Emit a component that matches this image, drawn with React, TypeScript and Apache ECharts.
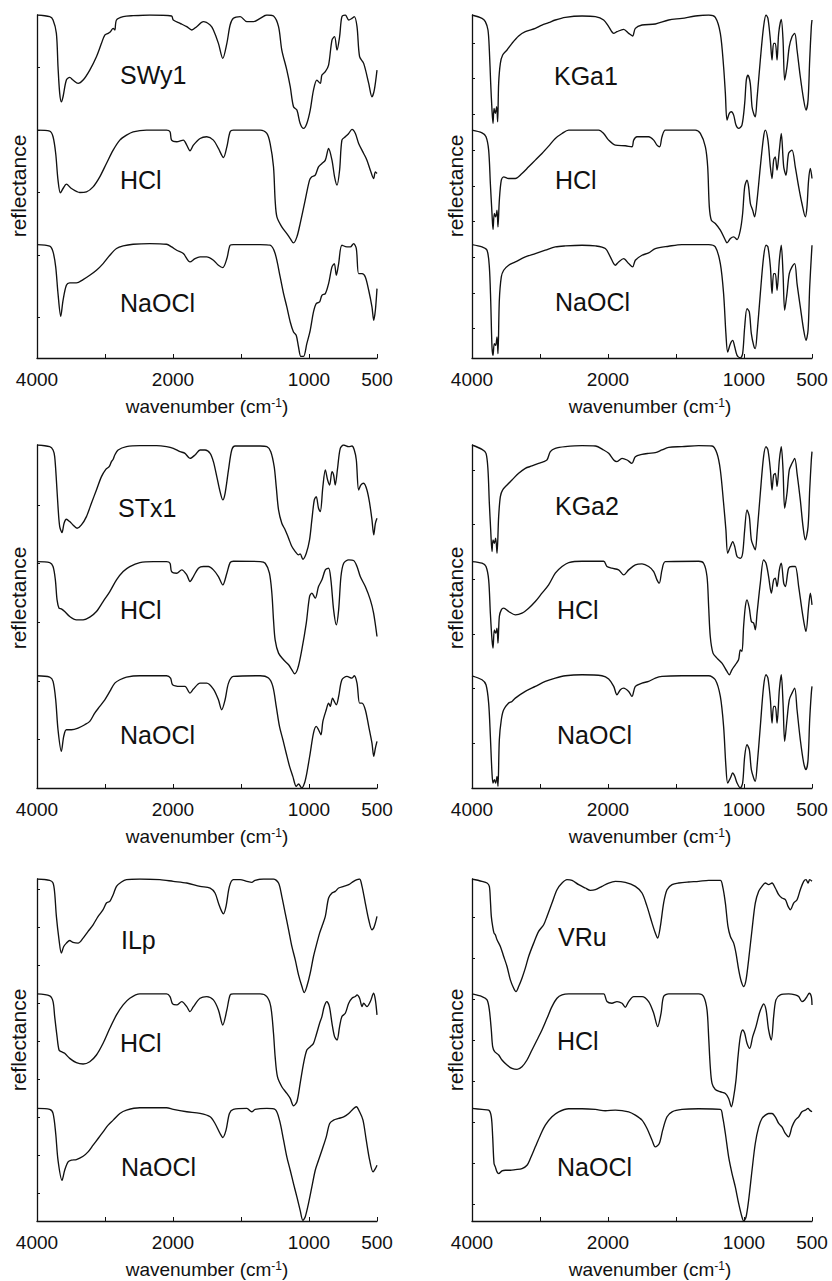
import React, { useEffect, useRef } from "react";
import * as echarts from "echarts";

// ---------- data: [wavenumber (cm-1), reflectance (offset, arbitrary units)] ----------
const SWy1_untreated = [[4000,1028],[3813,1023],[3764,1013],[3715,973],[3691,873],[3666,793],[3642,768],[3617,783],[3568,833],[3519,841],[3470,833],[3396,823],[3322,833],[3224,863],[3126,903],[3052,943],[3003,968],[2954,973],[2920,978],[2880,988],[2856,983],[2831,1013],[2733,1023],[2586,1026],[2340,1028],[2021,1025],[1998,1013],[1948,1003],[1899,993],[1862,983],[1826,993],[1777,1008],[1727,998],[1703,983],[1666,943],[1634,898],[1604,943],[1580,998],[1556,1018],[1506,1023],[1457,1008],[1408,1008],[1359,1018],[1310,1028],[1261,1025],[1224,993],[1200,923],[1163,863],[1138,813],[1114,753],[1089,743],[1065,703],[1040,688],[1016,703],[991,743],[967,803],[942,833],[917,823],[905,848],[880,858],[856,878],[831,953],[812,963],[794,923],[775,963],[758,1023],[733,1028],[708,1013],[684,1018],[667,1023],[647,993],[628,903],[598,883],[561,823],[537,783],[520,803],[500,863]];
const SWy1_HCl = [[4000,683],[3813,680],[3764,663],[3725,613],[3691,533],[3656,495],[3617,508],[3568,521],[3494,508],[3371,496],[3273,498],[3175,513],[3077,543],[2979,583],[2880,623],[2782,653],[2684,668],[2586,678],[2389,683],[2095,683],[2044,678],[2021,653],[1973,648],[1924,653],[1899,638],[1875,621],[1850,638],[1801,658],[1752,663],[1703,653],[1666,628],[1629,601],[1604,633],[1580,678],[1556,683],[1359,683],[1310,673],[1286,643],[1261,573],[1249,473],[1236,423],[1200,393],[1163,373],[1138,358],[1114,345],[1089,363],[1065,403],[1028,473],[996,533],[979,543],[954,548],[930,573],[905,583],[880,593],[856,628],[831,593],[812,543],[794,518],[775,563],[758,653],[733,663],[708,673],[684,685],[659,673],[635,643],[598,613],[574,593],[549,563],[525,538],[512,558],[500,553]];
const SWy1_NaOCl = [[4000,340],[3813,335],[3764,318],[3725,273],[3691,193],[3651,125],[3617,173],[3568,218],[3519,225],[3421,225],[3322,235],[3224,248],[3126,263],[3028,283],[2929,308],[2831,328],[2733,336],[2586,341],[2340,343],[2095,341],[2021,333],[1973,323],[1924,313],[1875,288],[1838,298],[1801,303],[1752,303],[1703,293],[1666,278],[1634,271],[1604,298],[1580,338],[1556,340],[1359,340],[1286,338],[1249,313],[1212,243],[1187,193],[1163,153],[1138,108],[1114,78],[1094,68],[1077,33],[1060,5],[1040,5],[1016,43],[991,83],[967,138],[947,163],[922,168],[905,188],[880,193],[856,223],[831,273],[814,283],[799,248],[782,283],[758,338],[721,333],[696,333],[672,343],[652,328],[635,253],[610,253],[586,243],[561,203],[537,153],[524,113],[512,143],[500,208]];

const KGa1_untreated = [[4000,1028],[3853,1018],[3804,1008],[3765,983],[3745,923],[3725,823],[3706,743],[3691,703],[3676,748],[3657,733],[3637,753],[3623,708],[3608,823],[3583,883],[3549,908],[3485,923],[3412,943],[3314,965],[3216,978],[3069,988],[2971,998],[2873,1005],[2775,1013],[2627,1021],[2382,1025],[2186,1023],[2064,1013],[1995,993],[1958,973],[1934,978],[1885,985],[1848,973],[1819,965],[1799,988],[1750,998],[1652,1001],[1554,1013],[1456,1018],[1358,1025],[1260,1028],[1211,1021],[1174,973],[1150,873],[1137,793],[1125,713],[1108,733],[1093,738],[1076,728],[1059,698],[1039,688],[1015,698],[995,763],[983,833],[971,848],[954,823],[941,753],[929,733],[917,723],[905,773],[880,893],[856,993],[838,1028],[824,1018],[806,953],[794,893],[782,943],[770,943],[757,893],[745,973],[726,1015],[713,953],[701,833],[684,873],[667,933],[647,963],[627,973],[610,923],[586,843],[561,773],[544,743],[529,773],[517,893],[505,993],[500,1013]];
const KGa1_HCl = [[4000,683],[3853,675],[3794,663],[3755,623],[3730,523],[3706,433],[3691,385],[3672,433],[3652,423],[3632,443],[3618,393],[3598,473],[3569,533],[3534,543],[3461,538],[3363,538],[3265,553],[3167,573],[3069,593],[2971,613],[2873,635],[2775,658],[2676,673],[2578,683],[2382,683],[2137,683],[2064,673],[1995,653],[1946,638],[1873,636],[1824,633],[1811,653],[1787,663],[1701,663],[1664,653],[1640,638],[1620,633],[1603,663],[1578,683],[1456,683],[1358,683],[1321,673],[1284,633],[1267,573],[1255,453],[1240,413],[1211,403],[1174,383],[1137,353],[1125,345],[1100,358],[1076,363],[1051,355],[1027,383],[1010,433],[995,513],[978,533],[966,513],[953,463],[936,443],[922,423],[904,473],[880,573],[856,663],[843,683],[824,653],[806,573],[794,538],[782,593],[770,603],[757,563],[740,623],[726,673],[708,573],[691,548],[672,613],[647,623],[623,573],[598,513],[574,463],[549,423],[537,453],[525,533],[512,568],[500,538]];
const KGa1_NaOCl = [[4000,340],[3853,333],[3779,323],[3745,273],[3725,173],[3706,33],[3691,8],[3672,43],[3652,38],[3632,63],[3618,13],[3598,173],[3569,243],[3534,263],[3461,278],[3363,288],[3216,303],[3069,313],[2922,323],[2775,333],[2627,336],[2382,338],[2186,336],[2039,328],[1983,303],[1946,278],[1922,288],[1885,298],[1848,283],[1819,273],[1799,293],[1750,308],[1701,315],[1652,328],[1554,335],[1456,340],[1260,340],[1211,333],[1174,283],[1150,193],[1133,73],[1120,18],[1100,43],[1083,53],[1068,33],[1051,8],[1027,0],[1010,13],[995,93],[978,148],[961,138],[946,73],[929,38],[917,28],[904,73],[880,193],[856,303],[838,338],[824,333],[806,273],[794,193],[782,253],[770,253],[757,203],[740,293],[726,338],[713,253],[701,143],[684,193],[667,253],[647,273],[627,283],[610,223],[586,153],[561,83],[544,53],[529,83],[517,213],[505,303],[500,338]];

const STx1_untreated = [[4000,1030],[3813,1025],[3764,1015],[3740,995],[3715,925],[3691,845],[3666,785],[3632,767],[3602,795],[3568,807],[3519,800],[3470,790],[3411,780],[3347,790],[3273,815],[3200,855],[3126,895],[3052,935],[2988,957],[2939,965],[2905,980],[2880,987],[2856,1000],[2807,1015],[2684,1025],[2488,1028],[2242,1028],[2095,1025],[1998,1020],[1948,1010],[1912,1005],[1875,990],[1838,1000],[1801,1015],[1764,1015],[1727,1005],[1703,980],[1678,935],[1654,890],[1634,865],[1617,885],[1592,955],[1568,1015],[1543,1027],[1359,1027],[1310,1025],[1281,1010],[1256,965],[1241,905],[1224,835],[1200,795],[1175,775],[1150,750],[1126,725],[1101,710],[1077,700],[1065,703],[1045,687],[1020,705],[996,745],[979,805],[961,865],[947,875],[930,840],[917,830],[898,905],[880,955],[863,925],[848,910],[831,950],[819,940],[807,910],[790,960],[770,1020],[745,1030],[708,1025],[684,1027],[667,1015],[652,985],[635,895],[618,910],[598,915],[574,895],[554,855],[537,805],[524,760],[512,795],[500,810]];
const STx1_HCl = [[4000,680],[3813,677],[3764,665],[3730,625],[3705,565],[3676,540],[3642,538],[3593,530],[3519,515],[3421,505],[3322,505],[3224,513],[3126,530],[3028,560],[2929,590],[2831,625],[2733,650],[2635,665],[2488,677],[2291,680],[2095,680],[2044,675],[2021,650],[1973,645],[1936,655],[1899,640],[1875,620],[1850,635],[1813,660],[1776,665],[1740,665],[1703,655],[1666,635],[1634,610],[1604,645],[1580,677],[1556,681],[1359,680],[1322,675],[1291,645],[1273,585],[1261,505],[1249,445],[1224,405],[1187,385],[1150,370],[1126,355],[1106,343],[1082,360],[1053,415],[1020,495],[996,575],[979,585],[954,570],[930,605],[905,625],[880,655],[856,660],[839,625],[819,535],[799,490],[782,535],[765,635],[745,675],[708,685],[672,683],[647,665],[623,635],[586,605],[549,565],[525,525],[500,455]];
const STx1_NaOCl = [[4000,337],[3813,333],[3764,320],[3725,265],[3691,175],[3642,110],[3607,155],[3568,175],[3494,175],[3396,180],[3298,190],[3224,200],[3151,225],[3077,245],[3003,265],[2929,290],[2856,315],[2782,325],[2684,333],[2488,337],[2095,337],[2036,330],[2006,310],[1948,305],[1912,305],[1875,285],[1850,297],[1801,315],[1752,315],[1703,297],[1666,265],[1642,235],[1617,265],[1592,315],[1556,335],[1359,337],[1298,330],[1266,305],[1241,245],[1217,185],[1192,145],[1168,105],[1143,65],[1119,35],[1094,5],[1077,12],[1053,0],[1033,15],[1016,45],[991,105],[967,165],[947,185],[930,175],[912,160],[898,200],[873,235],[856,255],[844,245],[827,270],[814,260],[799,250],[782,275],[758,325],[721,335],[684,330],[667,337],[647,315],[628,255],[610,255],[586,235],[561,185],[537,135],[524,95],[512,120],[500,140]];

const KGa2_untreated = [[4000,1030],[3853,1017],[3794,1005],[3765,955],[3745,855],[3725,775],[3706,710],[3691,745],[3672,735],[3652,750],[3632,705],[3608,815],[3583,875],[3549,895],[3485,910],[3412,925],[3314,945],[3216,960],[3118,967],[3020,975],[2946,980],[2897,985],[2848,1010],[2775,1020],[2627,1025],[2382,1028],[2186,1027],[2064,1015],[1995,1005],[1958,985],[1934,980],[1897,990],[1860,985],[1824,975],[1799,995],[1750,1002],[1701,1005],[1652,1007],[1603,1015],[1554,1023],[1456,1025],[1333,1028],[1235,1027],[1199,1005],[1174,955],[1150,855],[1133,775],[1120,705],[1100,725],[1083,740],[1068,725],[1051,695],[1027,690],[1010,705],[995,775],[978,835],[961,815],[946,745],[929,725],[917,715],[904,765],[880,885],[856,995],[838,1025],[824,1015],[806,955],[794,895],[782,940],[770,945],[757,905],[740,985],[726,1025],[713,955],[701,840],[684,885],[667,955],[647,975],[627,990],[610,945],[586,865],[566,785],[549,745],[529,785],[517,895],[505,985],[500,1010]];
const KGa2_HCl = [[4000,680],[3853,675],[3794,665],[3755,625],[3730,525],[3706,445],[3691,420],[3672,475],[3652,465],[3632,480],[3618,435],[3598,515],[3569,535],[3534,540],[3461,530],[3363,520],[3265,525],[3167,540],[3069,560],[2971,585],[2873,610],[2775,645],[2676,665],[2578,677],[2382,681],[2064,681],[2015,665],[1971,660],[1922,655],[1885,640],[1848,655],[1799,670],[1750,673],[1701,665],[1664,650],[1640,625],[1623,615],[1603,655],[1578,680],[1333,681],[1297,675],[1272,635],[1260,545],[1248,455],[1228,405],[1199,390],[1162,375],[1125,350],[1108,340],[1089,355],[1064,370],[1040,385],[1027,415],[1015,410],[1003,485],[990,545],[978,565],[961,540],[946,500],[929,495],[917,475],[904,525],[880,615],[856,685],[838,675],[819,635],[799,585],[782,625],[770,630],[757,605],[740,655],[726,675],[708,615],[696,605],[672,660],[647,665],[623,665],[598,605],[574,535],[554,485],[544,470],[525,545],[512,585],[500,550]];
const KGa2_NaOCl = [[4000,337],[3853,325],[3794,310],[3755,255],[3730,155],[3706,45],[3691,15],[3672,25],[3652,15],[3632,35],[3618,5],[3598,145],[3569,205],[3534,235],[3461,255],[3412,260],[3363,270],[3216,290],[3069,305],[2922,320],[2775,330],[2627,337],[2382,340],[2088,337],[1995,327],[1958,305],[1934,280],[1909,295],[1885,300],[1848,290],[1824,275],[1799,305],[1750,315],[1701,320],[1652,330],[1603,335],[1456,337],[1260,337],[1211,325],[1174,275],[1150,185],[1133,65],[1120,15],[1100,30],[1083,45],[1068,35],[1051,15],[1027,0],[1010,15],[995,95],[978,130],[961,115],[946,55],[929,30],[917,20],[904,65],[880,185],[856,305],[838,340],[824,330],[806,265],[794,195],[782,245],[770,245],[757,195],[740,295],[726,340],[713,255],[701,140],[684,205],[667,265],[647,285],[627,300],[610,235],[586,145],[561,75],[544,55],[529,85],[517,205],[505,285],[500,305]];

const ILp_untreated = [[4000,1024],[3813,1020],[3764,1012],[3740,982],[3715,912],[3676,842],[3642,802],[3607,822],[3568,832],[3519,840],[3470,834],[3396,832],[3322,847],[3249,867],[3175,887],[3101,912],[3028,932],[2979,952],[2929,957],[2880,977],[2831,1002],[2758,1015],[2684,1022],[2488,1024],[2193,1022],[1998,1017],[1899,1012],[1801,1002],[1727,997],[1691,982],[1666,952],[1642,927],[1629,920],[1610,942],[1585,1002],[1556,1022],[1506,1022],[1457,1017],[1421,1014],[1396,1020],[1335,1024],[1261,1024],[1224,1012],[1200,972],[1175,922],[1150,872],[1126,822],[1101,782],[1077,737],[1052,702],[1035,684],[1016,702],[991,742],[967,792],[942,832],[922,862],[905,882],[880,912],[856,967],[831,982],[807,987],[782,997],[745,1002],[708,1007],[672,1017],[647,1022],[628,1024],[610,1002],[586,952],[561,902],[537,872],[520,882],[500,912]];
const ILp_HCl = [[4000,680],[3813,674],[3764,657],[3740,612],[3705,552],[3676,512],[3642,507],[3593,502],[3519,487],[3421,474],[3322,470],[3224,477],[3126,497],[3028,532],[2929,577],[2831,617],[2733,647],[2635,667],[2488,680],[2095,680],[2044,672],[2006,650],[1973,647],[1936,657],[1899,642],[1875,627],[1850,642],[1801,667],[1752,672],[1703,662],[1666,632],[1634,587],[1604,632],[1580,677],[1556,680],[1359,680],[1310,672],[1281,642],[1261,562],[1249,492],[1232,432],[1200,402],[1163,382],[1138,367],[1114,345],[1089,357],[1065,412],[1040,472],[1016,512],[991,522],[967,532],[947,557],[922,592],[905,612],[888,642],[869,657],[850,642],[831,592],[812,552],[794,542],[775,582],[758,612],[733,622],[708,652],[684,667],[659,672],[647,677],[628,667],[610,642],[598,652],[574,642],[549,657],[525,682],[512,662],[500,617]];
const ILp_NaOCl = [[4000,337],[3813,334],[3764,322],[3725,262],[3691,182],[3632,122],[3593,152],[3543,177],[3494,182],[3421,184],[3322,194],[3249,207],[3175,227],[3101,247],[3028,267],[2954,287],[2880,302],[2782,322],[2684,332],[2488,339],[2095,339],[1998,334],[1899,327],[1801,322],[1727,312],[1691,292],[1654,262],[1634,250],[1610,272],[1585,322],[1556,334],[1457,337],[1421,327],[1396,334],[1310,337],[1249,334],[1217,302],[1187,242],[1163,192],[1138,152],[1114,112],[1089,72],[1065,32],[1045,2],[1028,12],[1004,52],[979,102],[954,152],[930,182],[905,212],[873,252],[848,292],[819,302],[782,307],[745,312],[708,322],[672,337],[652,342],[628,327],[603,302],[579,242],[554,182],[529,147],[512,157],[500,167]];

const VRu_untreated = [[4000,1024],[3853,1017],[3779,1012],[3745,1002],[3730,962],[3716,912],[3696,882],[3676,862],[3657,857],[3632,842],[3583,822],[3534,792],[3485,762],[3436,722],[3387,697],[3353,687],[3314,702],[3265,727],[3216,757],[3167,792],[3093,832],[3020,867],[2946,887],[2897,912],[2824,952],[2750,992],[2676,1012],[2603,1022],[2529,1020],[2431,1007],[2333,997],[2260,990],[2186,992],[2088,1002],[1995,1012],[1946,1017],[1873,1014],[1799,1002],[1750,982],[1713,942],[1676,892],[1652,862],[1635,847],[1615,882],[1591,952],[1566,992],[1529,1007],[1480,1012],[1407,1015],[1333,1017],[1260,1020],[1174,1020],[1157,1002],[1137,952],[1118,882],[1100,852],[1076,832],[1059,802],[1039,752],[1020,717],[1002,702],[985,722],[966,782],[941,872],[917,952],[892,987],[868,1002],[843,1012],[819,1007],[794,1012],[770,997],[745,977],[721,967],[696,962],[676,942],[659,932],[635,952],[610,962],[586,992],[561,1017],[544,1022],[529,1012],[517,1022],[500,1017]];
const VRu_HCl = [[4000,680],[3853,672],[3779,662],[3745,632],[3716,572],[3696,522],[3667,507],[3608,497],[3559,482],[3485,467],[3412,457],[3338,454],[3265,462],[3191,482],[3118,512],[3044,542],[2971,572],[2897,607],[2824,642],[2750,667],[2676,677],[2578,680],[2186,680],[2064,680],[2015,657],[1971,652],[1934,657],[1897,652],[1873,640],[1848,657],[1811,672],[1750,672],[1701,657],[1664,622],[1635,582],[1610,622],[1591,672],[1554,680],[1333,680],[1297,672],[1272,632],[1260,552],[1248,462],[1235,412],[1211,394],[1174,387],[1137,382],[1113,367],[1093,342],[1076,372],[1059,422],[1044,492],[1027,552],[1010,572],[995,562],[978,532],[958,517],[936,552],[912,582],[887,622],[868,642],[856,650],[838,632],[819,572],[799,542],[782,612],[765,662],[733,677],[672,680],[623,677],[598,672],[574,657],[554,662],[537,672],[520,682],[505,672],[500,647]];
const VRu_NaOCl = [[4000,337],[3853,334],[3755,332],[3716,312],[3696,252],[3676,172],[3657,162],[3632,147],[3608,142],[3559,150],[3510,152],[3436,152],[3363,154],[3265,157],[3191,167],[3142,187],[3069,222],[2995,257],[2922,287],[2824,312],[2725,327],[2578,336],[2382,336],[2186,334],[2039,330],[1946,332],[1848,327],[1799,317],[1750,302],[1713,277],[1676,242],[1652,222],[1623,232],[1598,272],[1566,312],[1529,327],[1456,334],[1333,336],[1174,334],[1157,312],[1137,262],[1113,192],[1088,142],[1064,102],[1039,52],[1015,12],[1002,0],[985,12],[966,62],[941,152],[917,232],[892,282],[868,307],[843,317],[819,322],[794,322],[770,312],[745,292],[721,282],[696,262],[672,252],[647,282],[623,302],[598,312],[574,327],[549,332],[529,337],[517,332],[500,327]];

// clay names, treatments, x tick labels, y tick positions
const clayNames = ["SWy1", "KGa1", "STx1", "KGa2", "ILp", "VRu"];
const treatments = ["HCl", "NaOCl"];
const xTickLabels: Record<number, string> = { 500: "500", 1000: "1000", 2000: "2000", 3000: "4000" };
const yTicks_SWy1 = [121, 308, 496, 683, 870];
const yTicks_KGa1 = [88, 195, 302, 409, 516, 623, 730, 837, 944];
const yTicks_STx1 = [145, 321, 497, 674, 850];
const yTicks_KGa2 = [135, 299, 463, 627, 791, 955];
const yTicks_ILp = [82, 196, 310, 424, 538, 652, 766, 880, 994];
const yTicks_VRu = [49, 172, 295, 418, 541, 664, 787, 910];
const yMaxes = [1028, 1028, 1030, 1030, 1024, 1024];

const spectraByPanel = [
  [SWy1_untreated, SWy1_HCl, SWy1_NaOCl],
  [KGa1_untreated, KGa1_HCl, KGa1_NaOCl],
  [STx1_untreated, STx1_HCl, STx1_NaOCl],
  [KGa2_untreated, KGa2_HCl, KGa2_NaOCl],
  [ILp_untreated, ILp_HCl, ILp_NaOCl],
  [VRu_untreated, VRu_HCl, VRu_NaOCl],
];
const yTicksByPanel = [yTicks_SWy1, yTicks_KGa1, yTicks_STx1, yTicks_KGa2, yTicks_ILp, yTicks_VRu];

// ---------- layout ----------
const FONT = '"Liberation Sans", Arial, Helvetica, sans-serif';
const INK = "#111";
const gridBoxes = [
  { left: 37, top: 15, width: 340, height: 343 },
  { left: 472, top: 15, width: 340, height: 343 },
  { left: 37, top: 445, width: 340, height: 343 },
  { left: 472, top: 445, width: 340, height: 343 },
  { left: 37, top: 879, width: 340, height: 342 },
  { left: 472, top: 879, width: 340, height: 342 },
];
const labelPos = [
  [[120, 75], [120, 180], [120, 303]],
  [[554, 76], [555, 180], [555, 302]],
  [[118, 508], [120, 610], [120, 735]],
  [[555, 506], [557, 610], [557, 735]],
  [[121, 940], [120, 1043], [121, 1167]],
  [[558, 937], [557, 1041], [557, 1167]],
];
const yTitleCenters = [186, 186, 598, 598, 1040, 1040];

// wavenumber axis: 4000-2000 compressed 2x relative to 2000-500
const toAxis = (wn: number) => (wn <= 2000 ? wn : 2000 + (wn - 2000) / 2);

export default function App() {
  const ref = useRef<HTMLDivElement>(null);
  useEffect(() => {
    if (!ref.current) return;
    const chart = echarts.init(ref.current, undefined, { renderer: "svg" });
    const grid = gridBoxes.map((g) => ({ ...g, containLabel: false }));
    const xAxis = gridBoxes.map((_, i) => ({
      gridIndex: i,
      type: "value",
      inverse: true,
      min: 500,
      max: 3000,
      interval: 500,
      axisLine: { show: true, onZero: false, lineStyle: { color: INK, width: 1.3 } },
      axisTick: { show: true, inside: true, length: 4, lineStyle: { color: INK, width: 1 } },
      axisLabel: {
        show: true,
        margin: 12,
        fontSize: 19,
        fontFamily: FONT,
        color: INK,
        showMinLabel: true,
        showMaxLabel: true,
        hideOverlap: false,
        formatter: (v: number) => xTickLabels[v] ?? "",
      },
      splitLine: { show: false },
    }));
    const yAxis = gridBoxes.map((_, i) => ({
      gridIndex: i,
      type: "value",
      min: 0,
      max: yMaxes[i],
      axisLine: { show: true, lineStyle: { color: INK, width: 1.3 } },
      axisTick: { show: true, inside: true, length: 3, customValues: yTicksByPanel[i], lineStyle: { color: INK, width: 1 } },
      axisLabel: { show: false },
      splitLine: { show: false },
    }));
    const series: any[] = [];
    spectraByPanel.forEach((spectra, i) => {
      spectra.forEach((s) => {
        series.push({
          type: "line",
          xAxisIndex: i,
          yAxisIndex: i,
          data: s.map(([w, v]) => [toAxis(w), v]),
          showSymbol: false,
          symbol: "none",
          smooth: 0.3,
          silent: true,
          lineStyle: { color: INK, width: 1.35 },
        });
      });
    });
    const graphic: any[] = [];
    labelPos.forEach((pos, i) => {
      const names = [clayNames[i], ...treatments];
      pos.forEach(([x, y], j) => {
        graphic.push({
          type: "text",
          x,
          y,
          style: { text: names[j], fontSize: 25, fontFamily: FONT, fill: INK, align: "left", verticalAlign: "middle" },
        });
      });
    });
    gridBoxes.forEach((g, i) => {
      const isLeft = i % 2 === 0;
      graphic.push({
        type: "text",
        x: isLeft ? 18 : 455,
        y: yTitleCenters[i],
        rotation: Math.PI / 2,
        style: { text: "reflectance", fontSize: 21, fontFamily: FONT, fill: INK, align: "center", verticalAlign: "middle" },
      });
      graphic.push({
        type: "text",
        x: g.left + g.width / 2 + (isLeft ? 0 : 8),
        y: g.top + g.height + 48.5,
        style: {
          text: "{a|wavenumber (cm}{s|-1}{a|)}",
          align: "center",
          verticalAlign: "middle",
          rich: {
            a: { fontSize: 19, fontFamily: FONT, fill: INK },
            s: { fontSize: 12, fontFamily: FONT, fill: INK, verticalAlign: "top" },
          },
        },
      });
    });
    chart.setOption({
      animation: false,
      backgroundColor: "#fff",
      grid,
      xAxis,
      yAxis,
      series,
      graphic,
    });
    return () => chart.dispose();
  }, []);
  return <div ref={ref} style={{ position: "absolute", left: 0, top: 0, width: 832, height: 1281 }} />;
}
